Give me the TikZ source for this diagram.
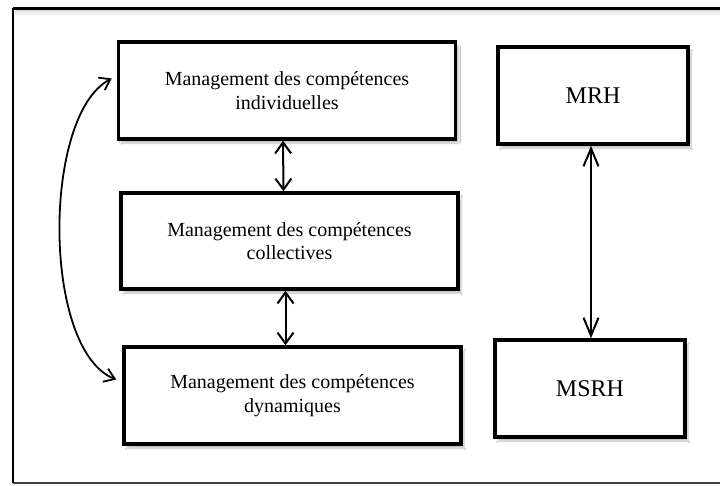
\documentclass[tikz,border=0pt]{standalone}
\usepackage{fontspec}
\setmainfont{Liberation Serif}
\usetikzlibrary{arrows.meta,shadows.blur,calc}
\begin{document}
\begin{tikzpicture}[x=1pt,y=-1pt,
  box/.style={draw=black,line width=3.5pt,fill=white,inner sep=0pt,align=center,
    font=\fontsize{20}{23.5}\selectfont,
    blur shadow={shadow xshift=3pt,shadow yshift=-4pt,shadow blur steps=6,shadow opacity=25}},
  smallbox/.style={box,font=\fontsize{24}{28}\selectfont},
  link/.style={line width=2pt,{Straight Barb[length=11pt,width=16pt,line width=2pt]}-{Straight Barb[length=11pt,width=16pt,line width=2pt]}},
  longlink/.style={line width=2pt,{Straight Barb[length=18pt,width=15pt,line width=2pt]}-{Straight Barb[length=18pt,width=15pt,line width=2pt]}},
  curvelink/.style={line width=1.8pt,{Straight Barb[length=10pt,width=14pt,line width=1.8pt]}-{Straight Barb[length=10pt,width=14pt,line width=1.8pt]}}
]
\useasboundingbox (0,0) rectangle (720,485);
\fill[white] (0,0) rectangle (720,485);
% outer frame
\draw[black,line width=3pt] (720,8) -- (13,8);
\draw[black,line width=2.5pt] (13,8) -- (13,483);
\draw[black!75,line width=2pt] (13,483) -- (720,483);
\fill[black!12] (14.5,9.5) rectangle (720,12);
\fill[black!6] (14.5,12) rectangle (720,15);

\node[box,minimum width=337pt,minimum height=97pt] (b1) at (287,90.5) {Management des compétences\\individuelles};
\node[box,minimum width=337pt,minimum height=96pt] (b2) at (289.5,241) {Management des compétences\\collectives};
\node[box,minimum width=337pt,minimum height=97pt] (b3) at (292.5,395.5) {Management des compétences\\dynamiques};
\node[smallbox,minimum width=190pt,minimum height=97pt] (mrh) at (593,95.5) {MRH};
\node[smallbox,minimum width=190pt,minimum height=97pt] (msrh) at (590,388.5) {MSRH};

\coordinate (t1) at ($(b1.south)+(-4,0)$);
\coordinate (t2) at ($(b2.north)+(-6,0)$);
\draw[link] (t1) -- (t2);
\coordinate (t3) at ($(b2.south)+(-4,0)$);
\coordinate (t4) at ($(b3.north)+(-7,0)$);
\draw[link] (t3) -- (t4);
\coordinate (m1) at ($(mrh.south)+(-2,0)$);
\coordinate (m2) at ($(msrh.north)+(1,0)$);
\draw[longlink] (m1) -- (m2);

\coordinate (c1) at ($(b1.west)+(-5,-12)$);
\coordinate (c2) at ($(b3.west)+(-6,-16)$);
\draw[curvelink] (c1) .. controls (42,115) and (42,350) .. (c2);
\end{tikzpicture}
\end{document}
